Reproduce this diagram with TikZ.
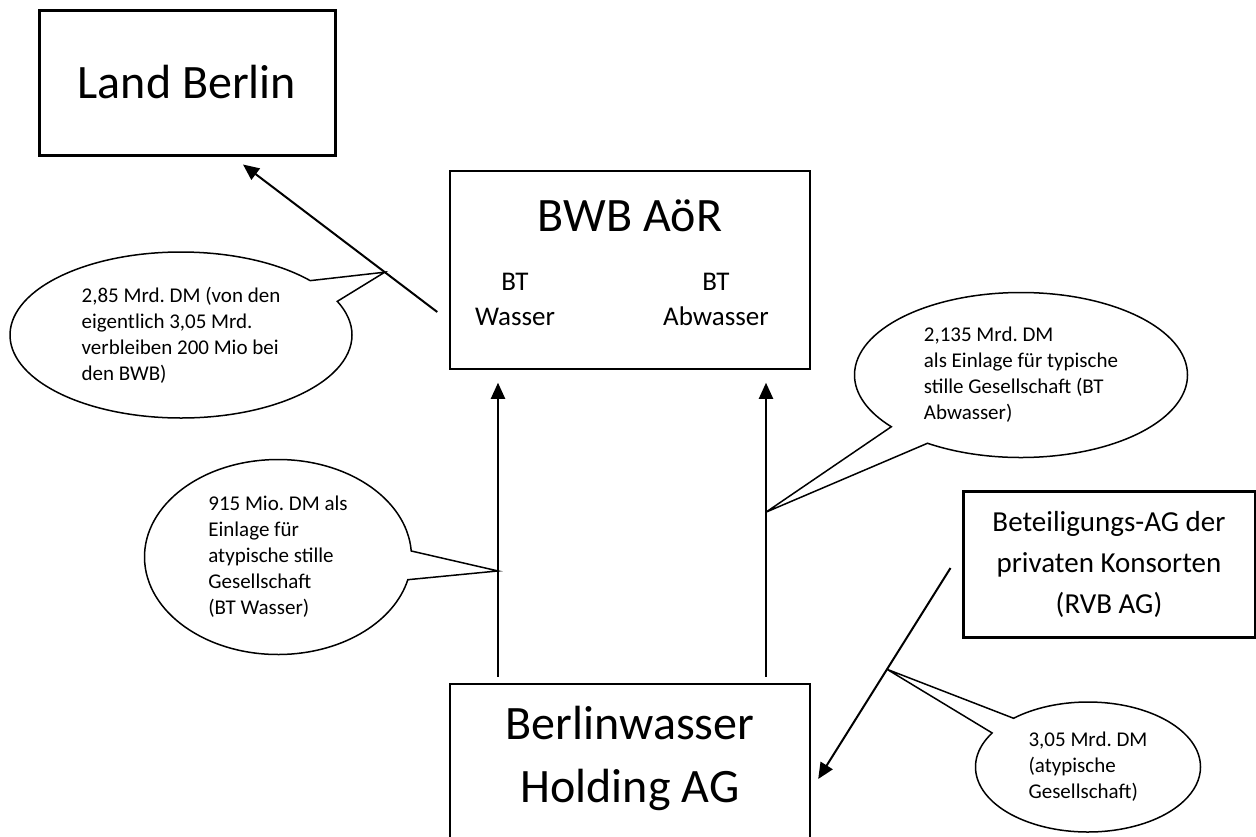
\documentclass[tikz,border=0pt]{standalone}
\usepackage{fontspec}
\setmainfont{Carlito}
\usetikzlibrary{arrows.meta,shapes.callouts,calc}
\frenchspacing

\begin{document}
\begin{tikzpicture}[x=1pt,y=-1pt,
  thickbox/.style={draw,line width=3pt,inner sep=0pt,align=center},
  thinbox/.style={draw,line width=1.5pt,inner sep=0pt,align=center},
  arr/.style={line width=2pt,-{Triangle[length=16pt,width=14pt]}},
  bubble/.style={ellipse callout,draw,line width=1.5pt,inner sep=0pt,align=left,
    callout pointer arc=17,font=\fontsize{21}{26}\selectfont}]
  \useasboundingbox (0,0) rectangle (1256,836);

  % boxes
  \node[thickbox,minimum width=296pt,minimum height=145pt,font=\fontsize{48}{58}\selectfont] (land) at (187,82.5) {Land Berlin};

  \node[thinbox,minimum width=360pt,minimum height=198pt] (bwb) at (630,270) {};
  \node[font=\fontsize{48}{58}\selectfont] (bwbname) at (630,216) {BWB AöR};
  \node[align=center,font=\fontsize{27}{35}\selectfont] (btw) at (515,299) {BT\\Wasser};
  \node[align=center,font=\fontsize{27}{35}\selectfont] (bta) at (716,299) {BT\\Abwasser};

  \node[thickbox,minimum width=292pt,minimum height=146pt,font=\fontsize{29}{41}\selectfont] (rvb) at (1109,564) {Beteiligungs-AG der\\privaten Konsorten\\(RVB AG)};

  \node[inner sep=0pt,align=center,minimum width=360pt,minimum height=148pt,font=\fontsize{48}{63}\selectfont] (hold) at (630,758) {Berlinwasser\\Holding AG};
  \draw[line width=1.5pt] (hold.north west) rectangle ([yshift=-80pt]hold.south east);

  % arrows
  \coordinate (lbS) at ([xshift=-12pt,yshift=-42pt]bwb.west);
  \coordinate (lbE) at ([xshift=56pt,yshift=-8pt]land.south);
  \draw[arr] (lbS) -- (lbE);

  \coordinate (wS) at ([xshift=-132pt,yshift=7pt]hold.north);
  \coordinate (wE) at ([xshift=-132pt,yshift=-13pt]bwb.south);
  \draw[arr] (wS) -- (wE);

  \coordinate (aS) at ([xshift=136pt,yshift=7pt]hold.north);
  \coordinate (aE) at ([xshift=136pt,yshift=-13pt]bwb.south);
  \draw[arr] (aS) -- (aE);

  \coordinate (rS) at ([xshift=-11pt,yshift=-4pt]rvb.west);
  \coordinate (rE) at ([xshift=8pt,yshift=-21pt]hold.east);
  \draw[arr] (rS) -- (rE);

  % callouts
  \coordinate (t1) at ($(lbS)!0.27!(lbE)$);
  \coordinate (t2) at ($(wS)!0.36!(wE)$);
  \coordinate (t3) at ($(aS)!0.56!(aE)$);
  \coordinate (t4) at ($(rS)!0.48!(rE)$);

  \node[bubble,minimum width=342pt,minimum height=166pt,callout absolute pointer={(t1)}] (c1) at (181,335)
    {2,85 Mrd. DM (von den\\eigentlich 3,05 Mrd.\\verbleiben 200 Mio bei\\den BWB)};
  \node[bubble,minimum width=267pt,minimum height=195pt,callout absolute pointer={(t2)}] (c2) at (278,557)
    {915 Mio. DM als\\Einlage für\\atypische stille\\Gesellschaft\\(BT Wasser)};
  \node[bubble,minimum width=333pt,minimum height=165pt,callout absolute pointer={(t3)}] (c3) at (1021,375)
    {2,135 Mrd. DM\\als Einlage für typische\\stille Gesellschaft (BT\\Abwasser)};
  \node[bubble,minimum width=225pt,minimum height=130pt,callout absolute pointer={(t4)}] (c4) at (1088,767)
    {3,05 Mrd. DM\\(atypische\\Gesellschaft)};

\end{tikzpicture}
\end{document}
